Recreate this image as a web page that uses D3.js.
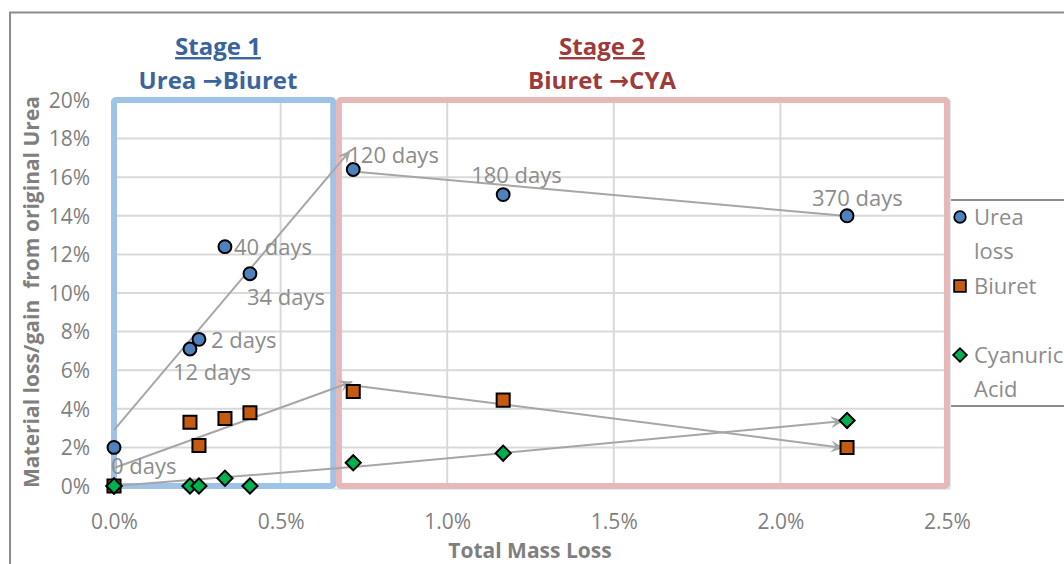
<!DOCTYPE html>
<html>
<head>
<meta charset="utf-8">
<script src="https://cdn.jsdelivr.net/npm/d3@7"></script>
<style>
  html, body { margin: 0; padding: 0; background: #fff; }
  svg { display: block; }
  text { font-family: "Open Sans", "Liberation Sans", sans-serif; }
</style>
</head>
<body>
<svg id="chart" width="1064" height="564"></svg>
<script>
// ---------- data ----------
const massLoss  = [0, 0.00228, 0.00255, 0.00333, 0.00408, 0.00718, 0.01168, 0.0220];
const ureaLoss  = [0.020, 0.071, 0.076, 0.124, 0.110, 0.164, 0.151, 0.140];
const biuret    = [0.000, 0.033, 0.021, 0.035, 0.038, 0.049, 0.0445, 0.020];
const cya       = [0.000, 0.000, 0.000, 0.004, 0.000, 0.012, 0.017, 0.034];
const dayLabels = ["0 days", "12 days", "2 days", "40 days", "34 days", "120 days", "180 days", "370 days"];

const seriesNames = ["Urea loss", "Biuret", "Cyanuric Acid"];
const xTicks = [0, 0.005, 0.01, 0.015, 0.02, 0.025];
const yTicks = [0, 0.02, 0.04, 0.06, 0.08, 0.10, 0.12, 0.14, 0.16, 0.18, 0.20];

// trend arrows (data coordinates)
const arrowX1 = [0, 0, 0, 0.00718, 0.00725, 0.0072];
const arrowY1 = [0.029, 0.0093, 0.000, 0.163, 0.052, 0.0098];
const arrowX2 = [0.0071, 0.00715, 0.00715, 0.0219, 0.0219, 0.0219];
const arrowY2 = [0.174, 0.054, 0.0098, 0.140, 0.0197, 0.0337];
const arrowHead = [true, true, false, false, true, true];

// stage regions (x in data units)
const stage1 = [0, 0.00658];
const stage2 = [0.00675, 0.025];

// ---------- layout ----------
const labelOffsets = [[-3, 19], [-17, 23], [12, 1], [9, 1], [-3, 24], [-5, -14], [-32, -19], [-35, -18]];

const svg = d3.select("#chart");
const x = d3.scaleLinear().domain([0, 0.025]).range([114, 947]);
const y = d3.scaleLinear().domain([0, 0.20]).range([486, 100]);

const gray = "#7F7F7F";
const lineGray = "#A6A6A6";

// outer chart border
svg.append("path").attr("d", "M10,564 L10,12.5 L1064,12.5")
  .attr("fill", "none").attr("stroke", "#8C8C8C").attr("stroke-width", 2);

// gridlines
const g = svg.append("g");
g.selectAll(".vg").data(xTicks.slice(1, -1)).join("line")
  .attr("x1", d => x(d)).attr("x2", d => x(d))
  .attr("y1", y(0.2)).attr("y2", y(0))
  .attr("stroke", "#D9D9D9").attr("stroke-width", 2);
g.selectAll(".hg").data(yTicks.slice(1, -1)).join("line")
  .attr("x1", x(0)).attr("x2", x(0.025))
  .attr("y1", d => y(d)).attr("y2", d => y(d))
  .attr("stroke", "#D9D9D9").attr("stroke-width", 2);

// axes (labels only)
const xAxis = d3.axisBottom(x).tickValues(xTicks).tickFormat(d3.format(".1%")).tickSize(0).tickPadding(0);
const xa = svg.append("g").attr("transform", "translate(0,529)").call(xAxis);
xa.select(".domain").remove();
xa.selectAll("text").attr("fill", gray).attr("font-size", 21).attr("dy", 0);

const yAxis = d3.axisLeft(y).tickValues(yTicks).tickFormat(d3.format(".0%")).tickSize(0).tickPadding(0);
const ya = svg.append("g").attr("transform", "translate(90,0)").call(yAxis);
ya.select(".domain").remove();
ya.selectAll("text").attr("fill", gray).attr("font-size", 21).attr("dy", "0.35em");

// thin plot edge lines
svg.append("path").attr("d", `M${x(stage1[1])},${y(0) + 3} L950,${y(0) + 3} L950,${y(0.2)}`)
  .attr("fill", "none").attr("stroke", "#BDD7EE").attr("stroke-width", 1);

// stage boxes
svg.append("rect")
  .attr("x", x(stage1[0])).attr("y", y(0.2))
  .attr("width", x(stage1[1]) - x(stage1[0])).attr("height", y(0) - y(0.2))
  .attr("rx", 2).attr("fill", "none").attr("stroke", "#9DC3E6").attr("stroke-width", 6);
svg.append("rect")
  .attr("x", x(stage2[0])).attr("y", y(0.2))
  .attr("width", x(stage2[1]) - x(stage2[0])).attr("height", y(0) - y(0.2))
  .attr("rx", 2).attr("fill", "none").attr("stroke", "#E6B9B8").attr("stroke-width", 6);

// arrow marker
svg.append("defs").append("marker")
  .attr("id", "stealth").attr("viewBox", "-14 -7 16 14")
  .attr("refX", 0).attr("refY", 0)
  .attr("markerWidth", 16).attr("markerHeight", 14)
  .attr("markerUnits", "userSpaceOnUse").attr("orient", "auto")
  .append("path").attr("d", "M0,0 L-13,-6 L-8,0 L-13,6 Z").attr("fill", lineGray);

svg.append("g").selectAll("line").data(arrowX1).join("line")
  .attr("x1", (d, i) => x(arrowX1[i])).attr("y1", (d, i) => y(arrowY1[i]))
  .attr("x2", (d, i) => x(arrowX2[i])).attr("y2", (d, i) => y(arrowY2[i]))
  .attr("stroke", lineGray).attr("stroke-width", 2)
  .attr("marker-end", (d, i) => arrowHead[i] ? "url(#stealth)" : null);

// markers
const sym = {
  circle: d3.symbol().type(d3.symbolCircle).size(130),
  square: d3.symbol().type(d3.symbolSquare).size(170),
  diamond: d3.symbol().type(d3.symbolSquare).size(115)
};
const mk = svg.append("g");
mk.selectAll(".cy").data(cya).join("path")
  .attr("d", sym.diamond())
  .attr("transform", (d, i) => `translate(${x(massLoss[i])},${y(d)}) rotate(45)`)
  .attr("fill", "#00B050").attr("stroke", "#000").attr("stroke-width", 2);
mk.selectAll(".bi").data(biuret).join("path")
  .attr("d", sym.square())
  .attr("transform", (d, i) => `translate(${x(massLoss[i])},${y(d)})`)
  .attr("fill", "#C55A11").attr("stroke", "#000").attr("stroke-width", 2);
// CYA at origin drawn on top of the overlapping Biuret point
mk.selectAll(".cy2").data(cya.slice(0, 1)).join("path")
  .attr("d", sym.diamond())
  .attr("transform", (d, i) => `translate(${x(massLoss[i])},${y(d)}) rotate(45)`)
  .attr("fill", "#00B050").attr("stroke", "#000").attr("stroke-width", 2);
mk.selectAll(".ur").data(ureaLoss).join("path")
  .attr("d", sym.circle())
  .attr("transform", (d, i) => `translate(${x(massLoss[i])},${y(d)})`)
  .attr("fill", "#4F81BD").attr("stroke", "#000").attr("stroke-width", 2);

// day labels
svg.append("g").selectAll("text").data(dayLabels).join("text")
  .attr("x", (d, i) => x(massLoss[i]) + labelOffsets[i][0])
  .attr("y", (d, i) => y(ureaLoss[i]) + labelOffsets[i][1])
  .attr("dy", "0.35em")
  .attr("fill", "#8C8C8C").attr("font-size", 22)
  .text(d => d);

// stage titles
const titles = [
  { t1: "Stage 1", a: "Urea ", b: "Biuret", cx: 218, color: "#3A649B" },
  { t1: "Stage 2", a: "Biuret ", b: "CYA", cx: 602, color: "#9E3A3A" }
];
titles.forEach(tt => {
  svg.append("text").attr("x", tt.cx).attr("y", 55).attr("text-anchor", "middle")
    .attr("font-size", 24).attr("font-weight", "bold").attr("fill", tt.color)
    .attr("text-decoration", "underline").text(tt.t1);
  const t2 = svg.append("text").attr("x", tt.cx).attr("y", 89).attr("text-anchor", "middle")
    .attr("font-size", 24).attr("font-weight", "bold").attr("fill", tt.color)
    .attr("xml:space", "preserve").style("white-space", "pre");
  t2.append("tspan").text(tt.a);
  t2.append("tspan").style("font-family", "'DejaVu Sans'").attr("font-size", 24).text("\u2192");
  t2.append("tspan").text(tt.b);
});

// axis titles
svg.append("text").attr("x", 530).attr("y", 558).attr("text-anchor", "middle")
  .attr("font-size", 21).attr("font-weight", "bold").attr("fill", gray)
  .text("Total Mass Loss");
svg.append("text").attr("transform", "translate(39,292) rotate(-90)")
  .attr("text-anchor", "middle")
  .attr("font-size", 21).attr("font-weight", "bold").attr("fill", gray)
  .attr("xml:space", "preserve").style("white-space", "pre")
  .text("Material loss/gain  from original Urea");

// legend
const lg = svg.append("g");
lg.append("rect").attr("x", 951).attr("y", 200).attr("width", 120).attr("height", 206).attr("fill", "#fff");
lg.append("line").attr("x1", 951).attr("x2", 1064).attr("y1", 200).attr("y2", 200).attr("stroke", "#8C8C8C").attr("stroke-width", 2);
lg.append("line").attr("x1", 951).attr("x2", 1064).attr("y1", 406).attr("y2", 406).attr("stroke", "#8C8C8C").attr("stroke-width", 2);
const legendRows = [
  { sym: sym.circle, rot: 0, fill: "#4F81BD", y: 217, lines: ["Urea", "loss"] },
  { sym: sym.square, rot: 0, fill: "#C55A11", y: 286, lines: ["Biuret"] },
  { sym: sym.diamond, rot: 45, fill: "#00B050", y: 355, lines: ["Cyanuric", "Acid"] }
];
legendRows.forEach((r, k) => {
  lg.append("path").attr("d", r.sym()).attr("transform", `translate(960,${r.y}) rotate(${r.rot}) scale(0.9)`)
    .attr("fill", r.fill).attr("stroke", "#000").attr("stroke-width", 2);
  r.lines.forEach((ln, j) => {
    lg.append("text").attr("x", 974).attr("y", r.y + j * 34).attr("dy", "0.35em")
      .attr("font-size", 22).attr("fill", "#8C8C8C").text(ln);
  });
});
</script>
</body>
</html>
